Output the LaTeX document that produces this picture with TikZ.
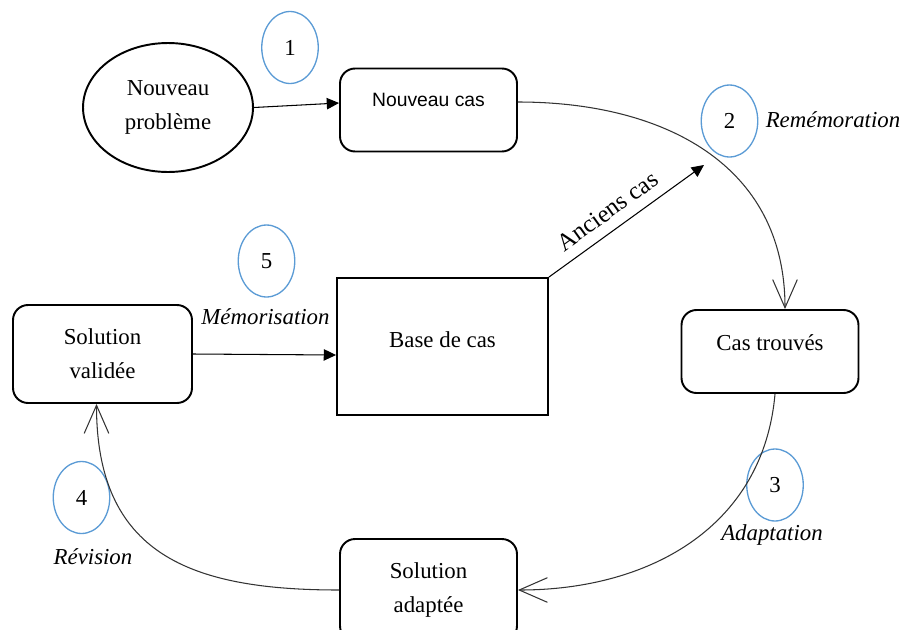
\documentclass[tikz,border=0pt]{standalone}
\usepackage{fontspec}
\setmainfont{Liberation Serif}
\newfontfamily\arialfont{Liberation Sans}
\usetikzlibrary{shapes,arrows.meta,positioning,calc}

\definecolor{stepblue}{RGB}{91,155,213}

\begin{document}
\begin{tikzpicture}[
    x=0.02cm, y=-0.02cm,
    txt/.style={font=\fontsize{13pt}{19.5pt}\selectfont},
    box/.style={draw, rounded corners=0.3cm, line width=1.1pt, txt, align=center,
                minimum width=3.54cm, minimum height=1.66cm, inner sep=2pt},
    base/.style={draw, line width=1.1pt, txt, minimum width=4.22cm, minimum height=2.74cm, inner sep=2pt},
    probleme/.style={ellipse, draw, line width=1.1pt, txt, align=center,
                minimum width=3.4cm, minimum height=2.58cm, inner sep=0pt},
    num/.style={ellipse, draw=stepblue, line width=0.75pt, txt,
                minimum width=1.13cm, minimum height=1.44cm, inner sep=0pt},
    phase/.style={txt, font=\fontsize{13pt}{15pt}\selectfont\itshape},
    arrow/.style={-{Triangle[length=7pt,width=6.5pt]}, line width=0.6pt},
    cycle/.style={-{Straight Barb[length=16pt,width=14pt]}, line width=0.6pt, black!80}
]
\useasboundingbox (0,0) rectangle (909,629);

% Nodes
\node[probleme] (np) at (168,107.5) {Nouveau\\probl\`eme};
\node[box, font=\arialfont\fontsize{11pt}{13pt}\selectfont, text height=8pt, text depth=11.6pt] (nc) at (428.5,110) {Nouveau cas};
\node[base, text height=9pt, text depth=7.8pt] (bc) at (442.5,346.5) {Base de cas};
\node[box, text height=9pt, text depth=10pt] (ct) at (770,351.5) {Cas trouv\'es};
\node[box, minimum width=3.58cm, minimum height=1.96cm] (sv) at (102.5,354) {Solution\\valid\'ee};
\node[box, minimum height=2.04cm] (sa) at (428.5,590) {Solution\\adapt\'ee};
\coordinate (ac) at (704,165);

% Step numbers
\node[num] (c1) at (290,47.5) {1};
\node[num] (c2) at (729.5,121) {2};
\node[num] (c3) at (775,485) {3};
\node[num] (c4) at (81.5,497.5) {4};
\node[num] (c5) at (266.5,261) {5};

% Phase labels
\node[phase] (l2) at (833,120) {Rem\'emoration};
\node[phase] (l3) at (772,535) {Adaptation};
\node[phase] (l4) at (93,557) {R\'evision};
\node[phase] (l5) at (265.5,317) {M\'emorisation};

% Straight arrows
\draw[arrow] (np.east) -- ([yshift=0.14cm]nc.west);
\draw[arrow] (sv.east) -- ([yshift=-0.17cm]bc.west);
\draw[arrow] (bc.north east) -- node[pos=0.45, sloped, above=2.5pt, font=\fontsize{14pt}{16pt}\selectfont] {Anciens cas} (ac);

% Cycle
\draw[cycle] ([yshift=0.16cm]nc.east) to[out=0, in=90, looseness=1.1] ([xshift=0.3cm]ct.north);
\draw[cycle] ([xshift=0.1cm]ct.south) to[out=-95, in=0, looseness=1.05] (sa.east);
\draw[cycle] (sa.west) to[out=180, in=-90, looseness=1.25] ([xshift=-0.12cm]sv.south);
\end{tikzpicture}
\end{document}
